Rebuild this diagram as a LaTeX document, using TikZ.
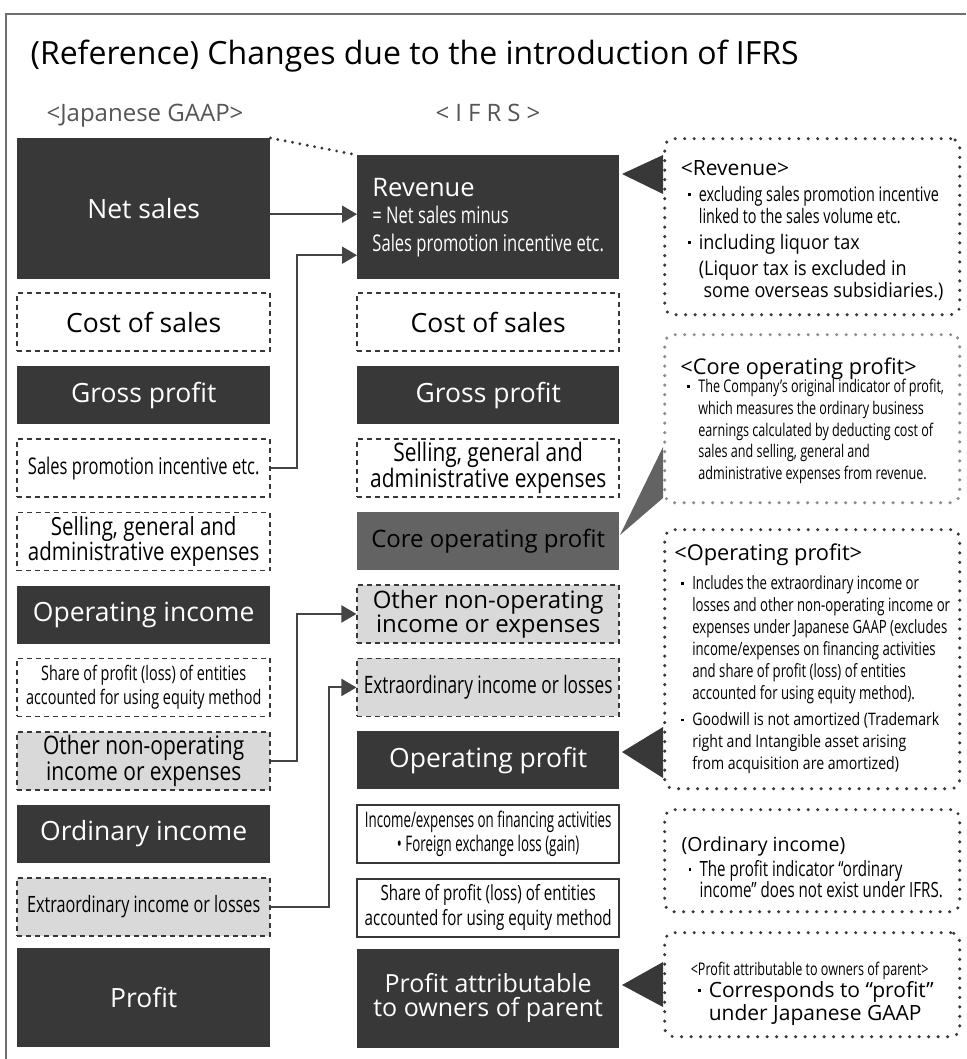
\documentclass[tikz,border=0pt]{standalone}
\usepackage{fontspec}
\setmainfont{Open Sans}
\newfontfamily\medfam[FakeStretch=0.9]{Open Sans}
\newfontfamily\condfam[FakeStretch=0.82]{Open Sans}
\newfontfamily\narrowfam[FakeStretch=0.72]{Open Sans}
\newfontfamily\tightfam[FakeStretch=0.62]{Open Sans}
\usepackage{xcolor}
\usepackage{tikz}
\usetikzlibrary{positioning, arrows.meta}

\definecolor{boxdark}{HTML}{383838}
\definecolor{coregray}{HTML}{636363}
\definecolor{lightfill}{HTML}{D9D9D9}
\definecolor{linegray}{HTML}{444444}
\definecolor{framegray}{HTML}{6E6E6E}
\definecolor{notegray}{HTML}{8C8C8C}
\definecolor{headgray}{HTML}{555555}

\newcommand{\fsz}[2]{\fontsize{#1}{#2}\selectfont}
\newcommand{\notebul}{\makebox[18pt][l]{\hspace{7pt}\rule[0.27em]{2.8pt}{2.8pt}}}
\newcommand{\noteind}{\hspace*{18pt}}

\tikzset{
  gaapbox/.style={minimum width=253pt, minimum height=58pt, inner sep=0pt, align=center},
  ifrsbox/.style={minimum width=262pt, minimum height=58pt, inner sep=0pt, align=center},
  darkfill/.style={fill=boxdark, text=white},
  dashfill/.style={draw=boxdark, line width=1.5pt, dash pattern=on 5pt off 4pt, text=black},
  greyfill/.style={dashfill, fill=lightfill},
  corefill/.style={fill=coregray, text=black},
  framefill/.style={draw=boxdark, line width=2pt, text=black},
  bigtext/.style={font=\fsz{26.5}{28}},
  note/.style={draw=boxdark, line width=3.4pt, dash pattern=on 0pt off 9.5pt, line cap=round,
    rounded corners=9pt, minimum width=295pt, inner sep=0pt, anchor=north west},
  notetext/.style={align=left, inner sep=0pt, text=black},
  link/.style={draw=linegray, line width=2pt, -{Triangle[length=15pt, width=17pt]}}
}

\begin{document}
\begin{tikzpicture}[x=1pt, y=-1pt, node distance=14pt]
\useasboundingbox (0,0) rectangle (966,1059);
\draw[framegray, line width=1.5pt] (966,14) -- (6,14) -- (6,1059);

\node (title) [anchor=base west, font=\fsz{32}{36}] at (27,65) {(Reference) Changes due to the introduction of IFRS};
\node (jgaap) [anchor=base, font=\fsz{24}{26}, text=headgray] at (145,122) {<Japanese GAAP>};
\node (ifrs) [anchor=base, font=\fsz{24}{26}, text=headgray] at (488,122) {<\hspace{6pt}I\hspace{6pt}F\hspace{6pt}R\hspace{6pt}S\hspace{6pt}>};

\node (ns) [gaapbox, darkfill, bigtext, anchor=north west, minimum height=141pt] at (17,138) {Net sales};
\node (lcs) [gaapbox, dashfill, bigtext, below=13pt of ns] {Cost of sales};
\node (lgp) [gaapbox, darkfill, bigtext, below=of lcs] {Gross profit};
\node (lsp) [gaapbox, dashfill, font=\narrowfam\fsz{23}{26}, below=of lgp] {Sales promotion incentive etc.};
\node (lsg) [gaapbox, dashfill, font=\condfam\fsz{25}{25}, below=of lsp] {Selling, general and\\administrative expenses};
\node (loi) [gaapbox, darkfill, bigtext, below=of lsg] {Operating income};
\node (lsh) [gaapbox, dashfill, font=\narrowfam\fsz{20}{24}, below=of loi] {Share of profit (loss) of entities\\accounted for using equity method};
\node (lon) [gaapbox, greyfill, font=\condfam\fsz{25.5}{24}, below=of lsh] {Other non-operating\\income or expenses};
\node (lor) [gaapbox, darkfill, bigtext, below=of lon] {Ordinary income};
\node (lex) [gaapbox, greyfill, font=\narrowfam\fsz{22.5}{26}, below=of lor] {Extraordinary income or losses};
\node (lpr) [gaapbox, darkfill, bigtext, minimum height=99pt, below=11pt of lex] {Profit};

\node (rev) [ifrsbox, darkfill, anchor=north west, minimum height=124pt, align=left, font=\narrowfam\fsz{23}{27.5}] at (357,155)
  {{\normalfont\fsz{25.5}{27.5}Revenue}\\= Net sales minus\\Sales promotion incentive etc.};
\node (mcs) [ifrsbox, dashfill, bigtext, below=13pt of rev] {Cost of sales};
\node (mgp) [ifrsbox, darkfill, bigtext, below=of mcs] {Gross profit};
\node (msg) [ifrsbox, dashfill, font=\condfam\fsz{25.5}{25}, below=of mgp] {Selling, general and\\administrative expenses};
\node (mco) [ifrsbox, corefill, font=\fsz{24}{26}, below=of msg] {Core operating profit};
\node (mon) [ifrsbox, greyfill, font=\fsz{24}{23}, below=of mco] {Other non-operating\\income or expenses};
\node (mex) [ifrsbox, greyfill, font=\narrowfam\fsz{24}{26}, below=of mon] {Extraordinary income or losses};
\node (mop) [ifrsbox, darkfill, bigtext, below=of mex] {Operating profit};
\node (mfi) [ifrsbox, framefill, font=\tightfam\fsz{21.5}{24}, below=of mop] {Income/expenses on financing activities\\• Foreign exchange loss (gain)};
\node (msh) [ifrsbox, framefill, font=\narrowfam\fsz{21}{25}, below=of mfi] {Share of profit (loss) of entities\\accounted for using equity method};
\node (mpa) [ifrsbox, darkfill, font=\fsz{25}{24}, minimum height=99pt, below=11pt of msh] {Profit attributable\\to owners of parent};

\draw[boxdark, line width=3.2pt, dash pattern=on 0pt off 7.5pt, line cap=round] (ns.north east) -- (rev.north west);
\draw[link] ([yshift=-5.5pt]ns.east) -- ([yshift=3pt]rev.west);
\draw[link] (lsp.east) -- ++(26,0) |- ([yshift=-38pt]rev.west);
\draw[link] (lon.east) -- ++(26,0) |- (mon.west);
\draw[link] (lex.east) -- ++(58,0) |- (mex.west);

\node (revnote) [note, minimum height=176pt] at (663,137) {};
\node (corenote) [note, draw=notegray, minimum height=168pt] at (663,333) {};
\node (opnote) [note, minimum height=259pt] at (663,528) {};
\node (ordnote) [note, minimum height=102pt] at (663,808) {};
\node (parnote) [note, minimum height=104pt] at (663,931) {};

\fill[boxdark] (663,155) -- (663,194) -- (622,174) -- cycle;
\fill[coregray] (663,447) -- (663,498) -- (620,535) -- cycle;
\fill[boxdark] (663,727) -- (663,778) -- (622,752) -- cycle;
\fill[boxdark] (663,962) -- (663,1007) -- (622,985) -- cycle;

\node (revtext) [notetext, font=\narrowfam\fsz{20}{22}] at ([yshift=-3.5pt]revnote.center)
  {{\normalfont\fsz{21}{22}<Revenue>}\\[4pt]
   \notebul excluding sales promotion incentive\\
   \noteind linked to the sales volume etc.\\[4pt]
   {\medfam\notebul including liquor tax}\\[4pt]
   {\medfam\noteind(Liquor tax is excluded in}\\
   {\medfam\noteind\ some overseas subsidiaries.)}};
\node (coretext) [notetext, font=\narrowfam\fsz{17.5}{21.7}] at ([yshift=-2pt]corenote.center)
  {{\normalfont\fsz{21.7}{22}<Core operating profit>}\\[-3pt]
   \notebul The Company’s original indicator of profit,\\
   \noteind which measures the ordinary business\\
   \noteind earnings calculated by deducting cost of\\
   \noteind sales and selling, general and\\
   \noteind administrative expenses from revenue.};
\node (optext) [notetext, font=\narrowfam\fsz{18.3}{22}] at (opnote.center)
  {{\normalfont\fsz{21.8}{22}<Operating profit>}\\[7pt]
   \notebul Includes the extraordinary income or\\
   \noteind losses and other non-operating income or\\
   \noteind expenses under Japanese GAAP (excludes\\
   \noteind income/expenses on financing activities\\
   \noteind and share of profit (loss) of entities\\
   \noteind accounted for using equity method).\\[4pt]
   {\condfam\fsz{17.2}{22}\notebul Goodwill is not amortized (Trademark}\\
   {\condfam\fsz{17.2}{22}\noteind right and Intangible asset arising}\\
   {\condfam\fsz{17.2}{22}\noteind from acquisition are amortized)}};
\node (ordtext) [notetext, font=\narrowfam\fsz{21}{21}] at ([yshift=-7pt]ordnote.center)
  {{\normalfont\fsz{19.5}{21}(Ordinary income)}\\[4pt]
   \notebul The profit indicator “ordinary\\
   \noteind income” does not exist under IFRS.};
\node (partext) [notetext, font=\fsz{21}{23}] at ([yshift=-9.5pt]parnote.center)
  {{\narrowfam\fsz{17.5}{17}<Profit attributable to owners of parent>}\\[-1pt]
   \notebul Corresponds to “profit”\\
   \noteind under Japanese GAAP};
\end{tikzpicture}
\end{document}
